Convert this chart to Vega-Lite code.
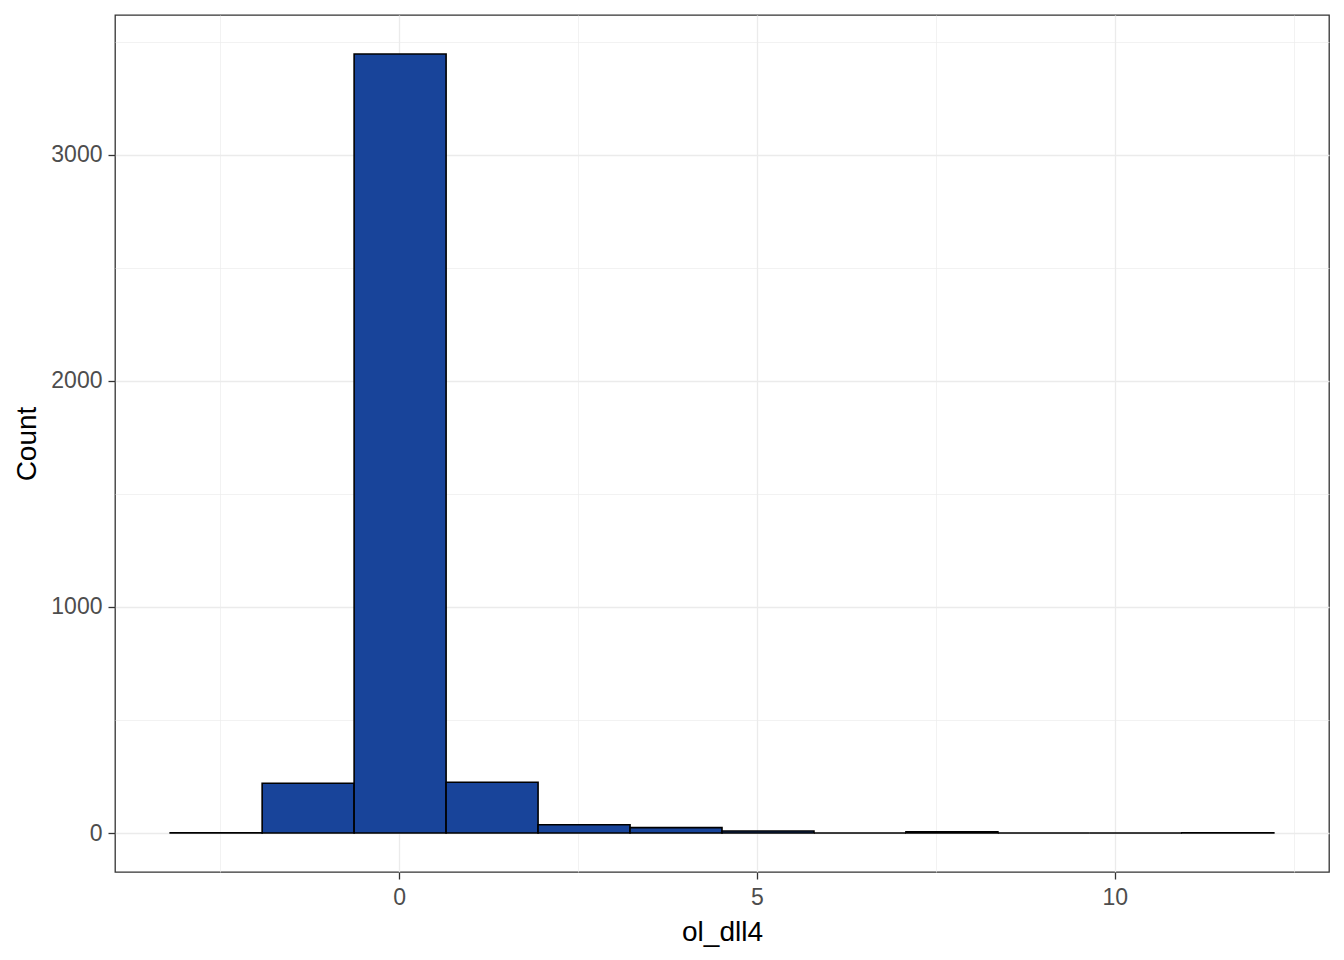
{
  "$schema": "https://vega.github.io/schema/vega-lite/v6.json",
  "width": 1214,
  "height": 857,
  "autosize": {"type": "none"},
  "padding": {"left": 115, "top": 15, "right": 15, "bottom": 88},
  "background": "white",
  "config": {
    "view": {"stroke": "#333333", "strokeWidth": 1.3},
    "font": "Liberation Sans"
  },
  "data": {
    "values": [
      {"bin_start": -3.198, "bin_end": -1.913, "count": 1},
      {"bin_start": -1.913, "bin_end": -0.628, "count": 220},
      {"bin_start": -0.628, "bin_end": 0.657, "count": 3446},
      {"bin_start": 0.657, "bin_end": 1.942, "count": 225},
      {"bin_start": 1.942, "bin_end": 3.227, "count": 37},
      {"bin_start": 3.227, "bin_end": 4.512, "count": 24},
      {"bin_start": 4.512, "bin_end": 5.797, "count": 9},
      {"bin_start": 5.797, "bin_end": 7.082, "count": 0},
      {"bin_start": 7.082, "bin_end": 8.367, "count": 5},
      {"bin_start": 8.367, "bin_end": 9.652, "count": 0},
      {"bin_start": 9.652, "bin_end": 10.937, "count": 0},
      {"bin_start": 10.937, "bin_end": 12.222, "count": 1}
    ]
  },
  "mark": {"type": "bar", "fill": "#18449A", "stroke": "black", "strokeWidth": 1.6},
  "encoding": {
    "x": {
      "field": "bin_start",
      "type": "quantitative",
      "scale": {"domain": [-3.969, 12.993], "nice": false, "zero": false},
      "axis": {
        "title": "ol_dll4",
        "titleFontSize": 28,
        "titleFontWeight": "normal",
        "titleColor": "black",
        "titlePadding": 9,
        "values": [-2.5, 0, 2.5, 5, 7.5, 10, 12.5],
        "labelExpr": "datum.value % 5 === 0 ? datum.label : ''",
        "labelFontSize": 23,
        "labelColor": "#4D4D4D",
        "labelPadding": 7,
        "domain": false,
        "tickColor": "#333333",
        "tickSize": 7,
        "tickWidth": 1.3,
        "tickOpacity": {"condition": {"test": "datum.value % 5 === 0", "value": 1}, "value": 0},
        "grid": true,
        "gridColor": "#EBEBEB",
        "gridWidth": {"condition": {"test": "datum.value % 5 === 0", "value": 1.3}, "value": 0.65}
      }
    },
    "x2": {"field": "bin_end"},
    "y": {
      "field": "count",
      "type": "quantitative",
      "scale": {"domain": [-172.3, 3618.3], "nice": false, "zero": false},
      "axis": {
        "title": "Count",
        "titleFontSize": 28,
        "titleFontWeight": "normal",
        "titleColor": "black",
        "titlePadding": 9,
        "values": [0, 500, 1000, 1500, 2000, 2500, 3000, 3500],
        "labelExpr": "datum.value % 1000 === 0 ? datum.label : ''",
        "format": "d",
        "labelFontSize": 23,
        "labelColor": "#4D4D4D",
        "labelPadding": 6,
        "domain": false,
        "tickColor": "#333333",
        "tickSize": 7,
        "tickWidth": 1.3,
        "tickOpacity": {"condition": {"test": "datum.value % 1000 === 0", "value": 1}, "value": 0},
        "grid": true,
        "gridColor": "#EBEBEB",
        "gridWidth": {"condition": {"test": "datum.value % 1000 === 0", "value": 1.3}, "value": 0.65}
      }
    },
    "y2": {"datum": 0}
  }
}
